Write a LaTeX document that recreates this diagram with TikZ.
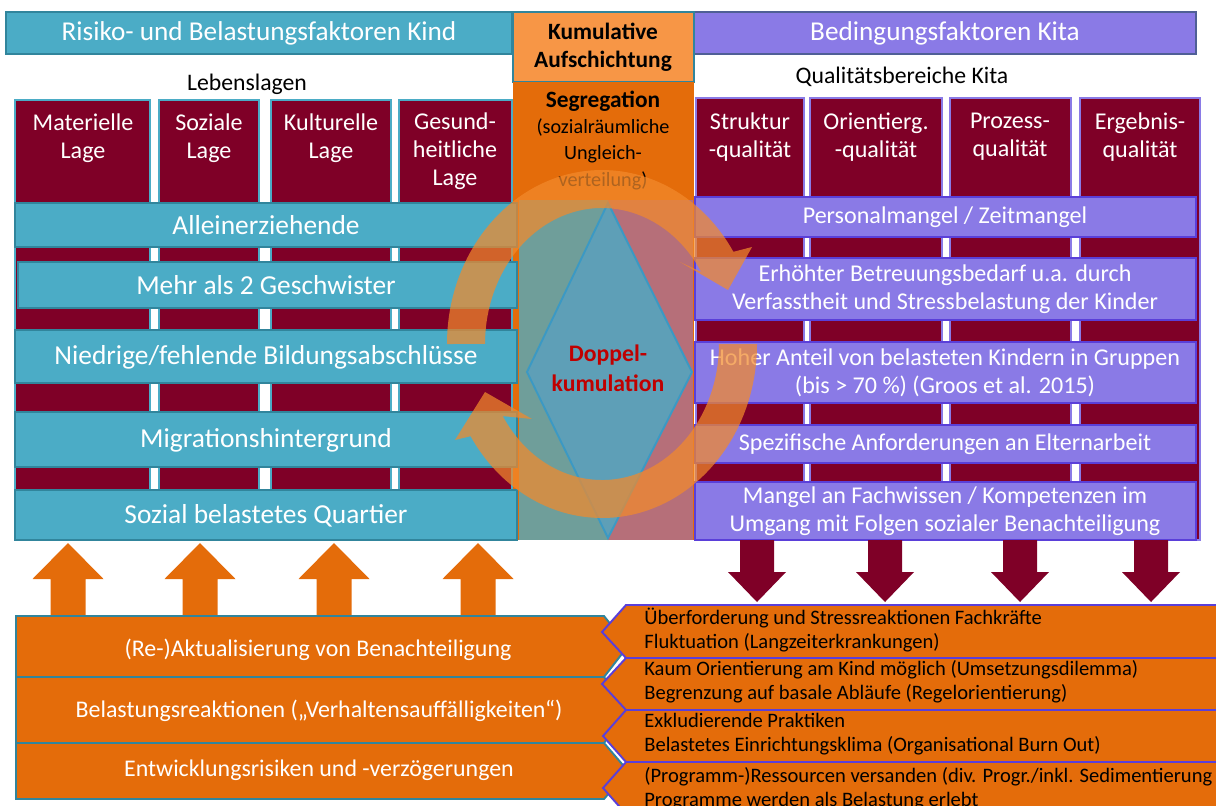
\documentclass[tikz,border=0pt]{standalone}
\usepackage{fontspec}
\setmainfont{Carlito}
\definecolor{kteal}{HTML}{4BACC6}
\definecolor{ktealdark}{HTML}{31859C}
\definecolor{kmaroon}{HTML}{7F0027}
\definecolor{kpurple}{HTML}{8A7AE6}
\definecolor{kpurpledark}{HTML}{5A3FD9}
\definecolor{kheadline}{HTML}{4F5F96}
\definecolor{korange}{HTML}{E46C0A}
\definecolor{klightorange}{HTML}{F79646}
\definecolor{kgreygreen}{HTML}{6F9E9A}
\definecolor{krose}{HTML}{B66F79}
\definecolor{kdiamond}{HTML}{5E9FB7}
\definecolor{kdiamondline}{HTML}{3B99C4}
\definecolor{kred}{HTML}{C00000}
\definecolor{kcycle}{HTML}{F28A2C}

\begin{document}
\begin{tikzpicture}[
    x=0.02cm, y=0.02cm, yscale=-1,
    tealbox/.style={fill=kteal, draw=ktealdark, line width=1.1pt},
    purplebox/.style={fill=kpurple, draw=kpurpledark, line width=1.1pt},
    lagecol/.style={fill=kmaroon, draw=kteal, line width=1.1pt},
    qualcol/.style={fill=kmaroon, draw=kpurple, line width=1.1pt},
    orangebox/.style={fill=korange, draw=ktealdark, line width=1.1pt},
    kitabox/.style={fill=korange, draw=kpurpledark, line width=1.1pt},
    uparrow/.style={fill=korange},
    downarrow/.style={fill=kmaroon},
    cyclearrow/.style={fill=kcycle, opacity=0.72},
    whitetxt/.style={text=white, align=center, inner sep=0pt},
    blacktxt/.style={text=black, align=center, inner sep=0pt},
    headfont/.style={font=\fontsize{15.5}{18}\selectfont},
    colfont/.style={font=\fontsize{13.7}{16}\selectfont},
    rowfont/.style={font=\fontsize{15.6}{18}\selectfont},
    kitafont/.style={font=\fontsize{13.7}{16}\selectfont},
    boldfont/.style={font=\bfseries\fontsize{13.3}{16}\selectfont},
    smallfont/.style={font=\fontsize{11.5}{15}\selectfont},
    labelfont/.style={font=\fontsize{13.5}{16}\selectfont},
    folgenfont/.style={font=\fontsize{13.6}{16}\selectfont},
    praxisfont/.style={font=\fontsize{11.7}{13.6}\selectfont}
]
    \useasboundingbox (0,0) rectangle (1216,805);
    \clip (0,0) rectangle (1216,805);

    % Headers
    \draw[tealbox] (6,12) rectangle (512,54);
    \node[whitetxt, headfont] (kind) at (259,33) {Risiko- und Belastungsfaktoren Kind};
    \draw[purplebox, draw=kheadline] (693,12) rectangle (1196,54);
    \node[whitetxt, headfont] (kita) at (945,33) {Bedingungsfaktoren Kita};
    \draw[fill=klightorange, draw=ktealdark, line width=0.6pt] (513,12) rectangle (694,82);
    \node[blacktxt, boldfont] (kumulativ) at (603,47) {Kumulative\\Aufschichtung};
    \fill[korange] (513,82) rectangle (694,540);
    \node[blacktxt, boldfont] (segregation) at (603,101) {Segregation};
    \node[blacktxt, smallfont] (ungleich) at (603,154) {(sozialräumliche\\Ungleich-\\verteilung)};
    \node[blacktxt, labelfont] (lebenslagen) at (247,84) {Lebenslagen};
    \node[blacktxt, labelfont] (qualitaet) at (902,77) {Qualitätsbereiche Kita};

    % Lebenslagen
    \draw[lagecol] (15,100) rectangle (150,540);
    \draw[lagecol] (159,100) rectangle (259,540);
    \draw[lagecol] (271,100) rectangle (391,540);
    \draw[lagecol] (399,100) rectangle (512,540);
    \node[whitetxt, colfont] (materiell) at (83,138) {Materielle\\Lage};
    \node[whitetxt, colfont] (sozial) at (209,138) {Soziale\\Lage};
    \node[whitetxt, colfont] (kulturell) at (331,138) {Kulturelle\\Lage};
    \node[whitetxt, colfont] (gesund) at (455,151) {Gesund-\\heitliche\\Lage};

    % Qualitaetsbereiche
    \draw[qualcol] (696,98) rectangle (804,540);
    \draw[qualcol] (810,98) rectangle (942,540);
    \draw[qualcol] (950,98) rectangle (1071,540);
    \draw[qualcol] (1080,98) rectangle (1200,540);
    \node[whitetxt, colfont] (struktur) at (750,137) {Struktur\\-qualität};
    \node[whitetxt, colfont] (orientierg) at (876,137) {Orientierg.\\-qualität};
    \node[whitetxt, colfont] (prozess) at (1010,137) {Prozess-\\qualität};
    \node[whitetxt, colfont] (ergebnis) at (1140,137) {Ergebnis-\\qualität};

    % Risikofaktoren Kind
    \draw[tealbox] (15,203) rectangle (517,247);
    \draw[tealbox] (18,262) rectangle (517,308);
    \draw[tealbox] (15,330) rectangle (517,383);
    \draw[tealbox] (15,412) rectangle (517,467);
    \draw[tealbox] (15,490) rectangle (517,540);
    \node[whitetxt, rowfont] (alleinerz) at (266,225) {Alleinerziehende};
    \node[whitetxt, rowfont] (geschwister) at (266,285) {Mehr als 2 Geschwister};
    \node[whitetxt, rowfont] (bildung) at (266,357) {Niedrige/fehlende Bildungsabschlüsse};
    \node[whitetxt, rowfont] (migration) at (266,440) {Migrationshintergrund};
    \node[whitetxt, rowfont] (quartier) at (266,516) {Sozial belastetes Quartier};

    % Doppelkumulation
    \fill[kgreygreen] (519,200) rectangle (608,540);
    \fill[krose] (608,200) rectangle (693,540);
    \draw[fill=kdiamond, draw=kdiamondline, line width=1.1pt] (608,203) -- (692,372) -- (608,538) -- (527,372) -- cycle;
    \node[boldfont, text=kred, align=center, inner sep=0pt, font=\bfseries\fontsize{13.5}{17}\selectfont] (doppel) at (608,368) {Doppel-\\kumulation};

    % Bedingungsfaktoren Kita
    \draw[purplebox] (695,197) rectangle (1196,237);
    \draw[purplebox] (695,258) rectangle (1196,320);
    \draw[purplebox] (695,342) rectangle (1196,403);
    \draw[purplebox] (695,425) rectangle (1196,463);
    \draw[purplebox] (695,482) rectangle (1196,540);
    \node[whitetxt, kitafont] (personal) at (945,217) {Personalmangel / Zeitmangel};
    \node[whitetxt, kitafont] (betreuung) at (945,289) {Erhöhter Betreuungsbedarf u.a. durch\\Verfasstheit und Stressbelastung der Kinder};
    \node[whitetxt, kitafont] (anteil) at (945,373) {Hoher Anteil von belasteten Kindern in Gruppen\\(bis > 70 \%) (Groos et al. 2015)};
    \node[whitetxt, kitafont] (eltern) at (945,444) {Spezifische Anforderungen an Elternarbeit};
    \node[whitetxt, kitafont] (fachwissen) at (945,511) {Mangel an Fachwissen / Kompetenzen im\\Umgang mit Folgen sozialer Benachteiligung};

    % Block arrows
    \fill[uparrow] (68,618) ++(-17.5,0) -- ++(0,-39) -- ++(-18,0) -- ++(35.5,-36) -- ++(35.5,36) -- ++(-18,0) -- ++(0,39) -- cycle;
    \fill[uparrow] (200,618) ++(-17.5,0) -- ++(0,-39) -- ++(-18,0) -- ++(35.5,-36) -- ++(35.5,36) -- ++(-18,0) -- ++(0,39) -- cycle;
    \fill[uparrow] (334,618) ++(-17.5,0) -- ++(0,-39) -- ++(-18,0) -- ++(35.5,-36) -- ++(35.5,36) -- ++(-18,0) -- ++(0,39) -- cycle;
    \fill[uparrow] (478,618) ++(-17.5,0) -- ++(0,-39) -- ++(-18,0) -- ++(35.5,-36) -- ++(35.5,36) -- ++(-18,0) -- ++(0,39) -- cycle;
    \fill[downarrow] (757,540) ++(-17,0) -- ++(0,32) -- ++(-12,0) -- ++(29,30) -- ++(29,-30) -- ++(-12,0) -- ++(0,-32) -- cycle;
    \fill[downarrow] (885,540) ++(-17,0) -- ++(0,32) -- ++(-12,0) -- ++(29,30) -- ++(29,-30) -- ++(-12,0) -- ++(0,-32) -- cycle;
    \fill[downarrow] (1020,540) ++(-17,0) -- ++(0,32) -- ++(-12,0) -- ++(29,30) -- ++(29,-30) -- ++(-12,0) -- ++(0,-32) -- cycle;
    \fill[downarrow] (1151,540) ++(-17,0) -- ++(0,32) -- ++(-12,0) -- ++(29,30) -- ++(29,-30) -- ++(-12,0) -- ++(0,-32) -- cycle;

    % Folgen Kind
    \draw[orangebox] (16,616) -- (604,616) -- (628,646) -- (604,677) -- (16,677) -- cycle;
    \draw[orangebox] (16,677) -- (604,677) -- (628,710) -- (604,743) -- (16,743) -- cycle;
    \draw[orangebox] (16,743) -- (604,743) -- (628,771) -- (604,799) -- (16,799) -- cycle;
    \node[whitetxt, folgenfont] (aktual) at (318,650) {(Re-)Aktualisierung von Benachteiligung};
    \node[whitetxt, folgenfont] (reaktion) at (319,711) {Belastungsreaktionen („Verhaltensauffälligkeiten“)};
    \node[whitetxt, folgenfont] (entwicklung) at (319,770) {Entwicklungsrisiken und -verzögerungen};

    % Folgen Kita
    \draw[kitabox] (626,605) -- (1230,605) -- (1230,658) -- (626,658) -- (602,632) -- cycle;
    \draw[kitabox] (626,658) -- (1230,658) -- (1230,710) -- (626,710) -- (602,684) -- cycle;
    \draw[kitabox] (626,710) -- (1230,710) -- (1230,762) -- (626,762) -- (603,736) -- cycle;
    \draw[kitabox] (626,762) -- (1230,762) -- (1230,814) -- (626,814) -- (603,788) -- cycle;
    \node[blacktxt, praxisfont, anchor=west, align=left] (ueberford) at (644,630) {Überforderung und Stressreaktionen Fachkräfte\\Fluktuation (Langzeiterkrankungen)};
    \node[blacktxt, praxisfont, anchor=west, align=left] (orientierung) at (644,682) {Kaum Orientierung am Kind möglich (Umsetzungsdilemma)\\Begrenzung auf basale Abläufe (Regelorientierung)};
    \node[blacktxt, praxisfont, anchor=west, align=left] (exklud) at (644,734) {Exkludierende Praktiken\\Belastetes Einrichtungsklima (Organisational Burn Out)};
    \node[blacktxt, praxisfont, anchor=west, align=left] (ressourcen) at (644,789) {(Programm-)Ressourcen versanden (div. Progr./inkl. Sedimentierung\\Programme werden als Belastung erlebt};

    % Kreislauf
    \fill[cyclearrow] (447,344) arc[start angle=180, end angle=328, x radius=3.1cm, y radius=3.48cm]
        -- (752,247) -- (728,290) -- (680,262) -- (701.2,271.9)
        arc[start angle=328, end angle=180, x radius=2.34cm, y radius=2.72cm] -- cycle;
    \fill[cyclearrow] (757,344) arc[start angle=0, end angle=148, x radius=3.1cm, y radius=3.48cm]
        -- (455,440) -- (485,392) -- (532,419) -- (502.8,416.1)
        arc[start angle=148, end angle=0, x radius=2.34cm, y radius=2.72cm] -- cycle;
\end{tikzpicture}
\end{document}
